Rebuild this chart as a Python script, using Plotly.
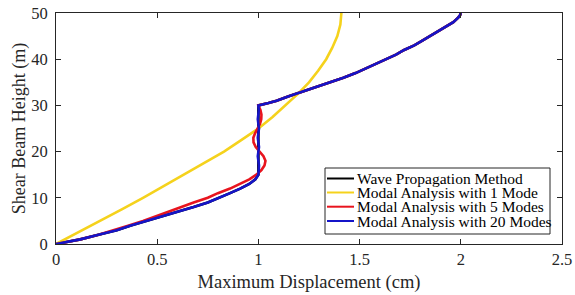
import plotly.graph_objects as go

# Heights (m) and maximum displacements (cm)
h_wave = [0, 1, 2, 3, 4, 5, 6, 7, 8, 9, 10, 11, 12, 13, 14, 15, 20, 25, 30,
          30.5, 31, 32, 33, 34, 35, 36, 37, 38, 39, 40, 41, 42, 43, 44, 45, 46, 47, 48, 49, 49.5, 50]
d_wave = [0, 0.12, 0.21, 0.30, 0.37, 0.45, 0.52, 0.60, 0.68, 0.75, 0.81, 0.86, 0.91, 0.955, 0.985, 1.0, 1.0, 1.0, 1.0,
          1.05, 1.09, 1.15, 1.22, 1.29, 1.355, 1.42, 1.48, 1.53, 1.58, 1.63, 1.68, 1.72, 1.77, 1.81, 1.85, 1.89, 1.93, 1.963, 1.987, 1.996, 2.0]

h_mode1 = [0, 2.5, 5, 7.5, 10, 12.5, 15, 17.5, 20, 22.5, 25, 27.5, 30, 32.5, 35, 37.5, 40, 42.5, 45, 47.5, 50]
d_mode1 = [0, 0.11, 0.22, 0.325, 0.43, 0.53, 0.63, 0.73, 0.83, 0.915, 1.0, 1.07, 1.135, 1.195, 1.25, 1.295, 1.335, 1.365, 1.39, 1.405, 1.41]

h_mode5 = [0, 1, 2, 3, 4, 5, 6, 7, 8, 9, 10, 11, 12, 13, 14, 15, 16, 17, 18, 19, 20, 21, 22, 23, 24, 25, 26, 27, 28, 29, 30,
           30.5, 31, 32, 33, 34, 35, 36, 37, 38, 39, 40, 41, 42, 43, 44, 45, 46, 47, 48, 49, 49.5, 50]
d_mode5 = [0, 0.12, 0.21, 0.29, 0.36, 0.43, 0.49, 0.56, 0.62, 0.68, 0.75, 0.80, 0.86, 0.91, 0.955, 0.99, 1.015, 1.03, 1.035, 1.025, 1.005,
           0.987, 0.976, 0.975, 0.984, 0.998, 1.008, 1.014, 1.015, 1.01, 1.0,
           1.05, 1.09, 1.15, 1.22, 1.29, 1.355, 1.42, 1.48, 1.53, 1.58, 1.63, 1.68, 1.72, 1.77, 1.81, 1.85, 1.89, 1.93, 1.963, 1.987, 1.996, 2.0]

h_mode20 = [0, 1, 2, 3, 4, 5, 6, 7, 8, 9, 10, 11, 12, 13, 14, 15, 17, 19, 21, 23, 25, 27, 29, 30,
            30.5, 31, 32, 33, 34, 35, 36, 37, 38, 39, 40, 41, 42, 43, 44, 45, 46, 47, 48, 49, 49.5, 50]
d_mode20 = [0, 0.12, 0.21, 0.30, 0.37, 0.45, 0.52, 0.60, 0.68, 0.75, 0.81, 0.86, 0.91, 0.955, 0.985, 1.0, 1.003, 0.997, 1.003, 0.997, 1.003, 0.997, 1.002, 1.0,
            1.05, 1.09, 1.15, 1.22, 1.29, 1.355, 1.42, 1.48, 1.53, 1.58, 1.63, 1.68, 1.72, 1.77, 1.81, 1.85, 1.89, 1.93, 1.963, 1.987, 1.996, 2.0]

x_ticks = [0, 0.5, 1, 1.5, 2, 2.5]
x_ticklabels = ["0", "0.5", "1", "1.5", "2", "2.5"]
y_ticks = [0, 10, 20, 30, 40, 50]

names = ["Wave Propagation Method", "Modal Analysis with 1 Mode",
         "Modal Analysis with 5 Modes", "Modal Analysis with 20 Modes"]
colors = ["#000000", "#F5D21C", "#E8141E", "#1414C8"]

FONT = "Liberation Serif"
W, H = 575, 295
ML, MR, MT, MB = 56, 13, 13, 51
PW, PH = W - ML - MR, H - MT - MB


def px2paper_x(px):
    return (px - ML) / PW


def px2paper_y(py):
    return (H - MB - py) / PH


fig = go.Figure()
series = [(d_wave, h_wave), (d_mode1, h_mode1), (d_mode5, h_mode5), (d_mode20, h_mode20)]
for (xs, ys), name, c in zip(series, names, colors):
    fig.add_trace(go.Scatter(x=xs, y=ys, mode="lines", name=name, showlegend=False,
                             line=dict(color=c, width=2.6)))

# Hand-built legend box (compact, MATLAB-like)
shapes = [dict(type="rect", xref="paper", yref="paper",
               x0=px2paper_x(325), x1=px2paper_x(550),
               y0=px2paper_y(234), y1=px2paper_y(168),
               line=dict(color="#262626", width=1), fillcolor="white", layer="above")]
annotations = []
row_y = [178.5, 192.5, 206.7, 221]
for name, c, ry in zip(names, colors, row_y):
    shapes.append(dict(type="line", xref="paper", yref="paper",
                       x0=px2paper_x(327), x1=px2paper_x(354),
                       y0=px2paper_y(ry), y1=px2paper_y(ry),
                       line=dict(color=c, width=2), layer="above"))
    annotations.append(dict(xref="paper", yref="paper", x=px2paper_x(355), y=px2paper_y(ry),
                            xanchor="left", yanchor="middle", showarrow=False,
                            text=name, font=dict(family=FONT, size=15.5, color="#000000")))

fig.update_layout(
    width=W, height=H,
    margin=dict(l=ML, r=MR, t=MT, b=MB, autoexpand=False),
    paper_bgcolor="white", plot_bgcolor="white",
    font=dict(family=FONT, size=16.5, color="#262626"),
    showlegend=False,
    shapes=shapes, annotations=annotations,
)
fig.update_xaxes(range=[0, 2.5], tickvals=x_ticks, ticktext=x_ticklabels, automargin=False,
                 ticks="inside", ticklen=5, tickcolor="#262626",
                 showline=True, linecolor="#262626", linewidth=1, mirror="allticks",
                 showgrid=False, zeroline=False, ticklabelstandoff=0,
                 title=dict(text="Maximum Displacement (cm)", font=dict(size=18.5, family=FONT, color="#262626"), standoff=7))
fig.update_yaxes(range=[0, 50], tickvals=y_ticks, automargin=False,
                 ticks="inside", ticklen=5, tickcolor="#262626",
                 showline=True, linecolor="#262626", linewidth=1, mirror="allticks",
                 showgrid=False, zeroline=False, ticklabelstandoff=4,
                 title=dict(text="Shear Beam Height (m)", font=dict(size=18, family=FONT, color="#262626"), standoff=0))

# Remove the page's default 8px body margin so the figure sits at the window origin
fig.write_html("out.html", config={"displayModeBar": False},
               post_script="document.body.style.margin='0px';")
